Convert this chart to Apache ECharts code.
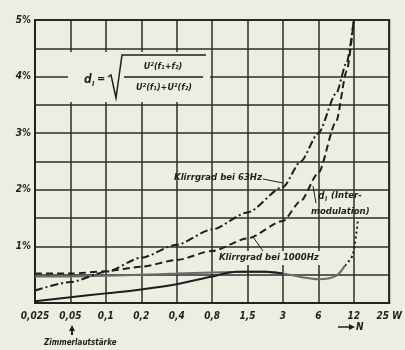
<!DOCTYPE html>
<html><head><meta charset="utf-8">
<script src="https://cdn.jsdelivr.net/npm/echarts@6/dist/echarts.min.js"></script>
<style>html,body{margin:0;padding:0;background:#eceee2;}#c{width:405px;height:350px;}</style>
</head><body><div id="c"></div>
<script>
// x = power step (octaves above 0,025 W), tick labels in W
const tickLabels = ['0,025','0,05','0,1','0,2','0,4','0,8','1,5','3','6','12','25 W'];
const yTicks = [1,2,3,4,5];

// Klirrgrad bei 63 Hz (dash-dot)
const k63Step = [0,1,2,3,4,5,6,7,7.5,8,8.5,8.8,9];
const k63Val  = [0.22,0.37,0.55,0.8,1.03,1.3,1.6,2.05,2.5,3.0,3.7,4.25,5.0];
// d_I Intermodulation (dashed)
const imStep = [0,1,2,3,4,5,6,7,7.5,8,8.5,8.8,9];
const imVal  = [0.52,0.52,0.56,0.64,0.76,0.92,1.14,1.45,1.8,2.3,3.2,4.1,5.0];
// Klirrgrad bei 1000 Hz (solid, grey)
const k1000Step = [0,1,2,3,4,5,6,6.5,7,7.5,8,8.5,8.75];
const k1000Val  = [0.47,0.47,0.48,0.5,0.52,0.54,0.55,0.55,0.52,0.46,0.42,0.48,0.66];
// its dotted continuation
const k1000DotStep = [8.75,8.97,9.12];
const k1000DotVal  = [0.66,0.85,1.5];
// lower solid curve
const lowStep = [0,1,2,3,4,5,5.7,6.5,7];
const lowVal  = [0.03,0.1,0.17,0.24,0.33,0.47,0.55,0.55,0.52];

const zip = (a,b) => a.map((v,i)=>[v,b[i]]);
const ink = '#1e1e1e';
const F = 'DejaVu Sans Condensed, DejaVu Sans, sans-serif';
const tx = (x,y,t,o) => Object.assign({type:'text',x:x,y:y,z:20,style:Object.assign({text:t,fill:ink,font:'italic bold 9.5px '+F,textVerticalAlign:'middle'},o||{})});
const ln = (x1,y1,x2,y2,w) => ({type:'line',z:20,shape:{x1:x1,y1:y1,x2:x2,y2:y2},style:{stroke:ink,lineWidth:w||1}});

const chart = echarts.init(document.getElementById('c'));
chart.setOption({
  backgroundColor:'#eceee2',
  animation:false,
  grid:{left:35,right:15,top:20,bottom:47,show:true,borderColor:'#222',borderWidth:2,backgroundColor:'transparent'},
  xAxis:{type:'value',min:0,max:10,interval:1,
    axisLine:{show:true,lineStyle:{color:'#222',width:2}},axisTick:{show:false},
    axisLabel:{margin:8,color:ink,fontSize:10,fontStyle:'italic',fontWeight:'bold',fontFamily:F,
      formatter:v=>tickLabels[Math.round(v)]},
    splitLine:{show:true,lineStyle:{color:'#2e2e2e',width:1.5}}},
  yAxis:{type:'value',min:0,max:5,interval:0.5,
    axisLine:{show:true,lineStyle:{color:'#222',width:2}},axisTick:{show:false},
    axisLabel:{margin:4,color:ink,fontSize:10,fontStyle:'italic',fontWeight:'bold',fontFamily:F,
      formatter:v=>yTicks.indexOf(v)>=0?v+'%':''},
    splitLine:{show:true,lineStyle:{color:'#2e2e2e',width:1.5}}},
  series:[
    {name:'Intermodulation',type:'line',data:zip(imStep,imVal),smooth:0.25,smoothMonotone:'x',showSymbol:false,z:5,
      lineStyle:{color:ink,width:2,type:[7,4]}},
    {name:'Klirrgrad bei 63 Hz',type:'line',data:zip(k63Step,k63Val),smooth:0.25,smoothMonotone:'x',showSymbol:false,z:5,
      lineStyle:{color:ink,width:2,type:[8,3,2,3]}},
    {name:'Klirrgrad bei 1000 Hz',type:'line',data:zip(k1000Step,k1000Val),smooth:0.3,showSymbol:false,z:4,
      lineStyle:{color:'#6a6a6a',width:2}},
    {name:'1000 Hz dotted',type:'line',data:zip(k1000DotStep,k1000DotVal),smooth:0.3,showSymbol:false,z:4,
      lineStyle:{color:ink,width:2,type:[2,3]}},
    {name:'lower',type:'line',data:zip(lowStep,lowVal),smooth:0.3,showSymbol:false,z:4,
      lineStyle:{color:ink,width:2}}
  ],
  graphic:[
    {type:'rect',z:15,shape:{x:68,y:52,width:142,height:50},style:{fill:'#eceee2'}},
    tx(84,80,'d',{font:'italic bold 12px '+F}),
    tx(92,84,'I',{font:'italic bold 7px '+F}),
    tx(97,79,'=',{font:'bold 11px '+F}),
    {type:'polyline',z:20,shape:{points:[[108,77],[111,75],[116,98],[122,55],[206,55]]},style:{stroke:ink,lineWidth:1.5,fill:null}},
    ln(124,77,203,77,1.3),
    tx(163,67,'U²(f₁+f₂)',{textAlign:'center',font:'italic bold 9px '+F}),
    tx(164,88,'U²(f₁)+U²(f₂)',{textAlign:'center',font:'italic bold 9px '+F}),
    tx(262,178,'Klirrgrad bei 63Hz',{textAlign:'right'}),
    ln(263,179,283,183,1),
    ln(313,186,316,203,1),
    tx(318,196,'d',{font:'italic bold 10px '+F}),
    tx(325,199,'I',{font:'italic bold 6.5px '+F}),
    tx(331,196,'(Inter-'),
    tx(311,212,'modulation)'),
    {type:'rect',z:15,shape:{x:218,y:251,width:127,height:14},style:{fill:'#eceee2'}},
    tx(219,258,'Klirrgrad bei 1000Hz'),
    ln(263,251,253,237,1),
    ln(338,327,350,327,1.5),
    {type:'polygon',z:20,shape:{points:[[349,324],[355,327],[349,330]]},style:{fill:ink}},
    tx(356,327,'N',{font:'italic bold 10px '+F}),
    {type:'polygon',z:20,shape:{points:[[69,331],[72,325],[75,331]]},style:{fill:ink}},
    ln(72,330,72,335,2),
    tx(44,343,'Zimmerlautstärke',{font:'italic bold 8px '+F})
  ]
});
</script></body></html>
